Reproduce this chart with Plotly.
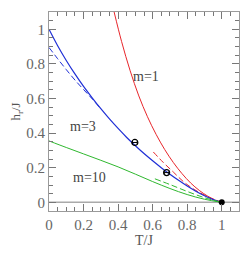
import plotly.graph_objects as go

# m=1 (red)
red_T = [0.377, 0.42, 0.47, 0.52, 0.57, 0.62, 0.67, 0.72, 0.77, 0.82, 0.87, 0.92, 0.96, 1.0]
red_h = [1.1, 0.93, 0.76, 0.615, 0.495, 0.393, 0.305, 0.23, 0.166, 0.112, 0.069, 0.035, 0.013, 0.0]
red_dash_T = [0.604, 0.66, 0.72, 0.78, 0.84, 0.9, 1.0]
red_dash_h = [0.291, 0.232, 0.175, 0.118, 0.075, 0.042, 0.0]

# m=3 (blue)
blue_T = [0.0, 0.05, 0.1, 0.15, 0.2, 0.25, 0.3, 0.35, 0.4, 0.45, 0.5, 0.55, 0.6, 0.65, 0.7, 0.75, 0.8, 0.85, 0.9, 0.95, 1.0]
blue_h = [1.0, 0.905, 0.82, 0.742, 0.67, 0.604, 0.541, 0.482, 0.427, 0.375, 0.327, 0.282, 0.24, 0.2, 0.162, 0.127, 0.094, 0.064, 0.038, 0.016, 0.0]
blue_dash_T = [0.0, 0.05, 0.1, 0.15, 0.2, 0.25, 0.3]
blue_dash_h = [0.895, 0.83, 0.767, 0.707, 0.652, 0.598, 0.54]

# m=10 (green)
green_T = [0.0, 0.1, 0.2, 0.3, 0.4, 0.5, 0.6, 0.7, 0.8, 0.9, 1.0]
green_h = [0.355, 0.317, 0.28, 0.243, 0.205, 0.163, 0.12, 0.08, 0.045, 0.018, 0.0]
green_dash_T = [0.613, 0.7, 0.8, 0.9, 1.0]
green_dash_h = [0.136, 0.103, 0.063, 0.027, 0.0]

# data points
pts_T = [0.497, 0.681]
pts_h = [0.346, 0.172]
pts_err = [0.014, 0.014]
end_T = [1.0]
end_h = [0.0]

labels = ["m=1", "m=3", "m=10"]
label_T = [0.56, 0.197, 0.232]
label_h = [0.728, 0.441, 0.142]

x_ticks = [0, 0.2, 0.4, 0.6, 0.8, 1.0]
x_ticktext = ["0", "0.2", "0.4", "0.6", "0.8", "1"]
y_ticks = [0, 0.2, 0.4, 0.6, 0.8, 1.0]
y_ticktext = ["0", "0.2", "0.4", "0.6", "0.8", "1"]
minor_step = 0.05

X_RANGE = [0, 1.1]
Y_RANGE = [-0.05, 1.1]

RED = "#e8262b"
BLUE = "#1f2fd6"
GREEN = "#2fb82f"
FONT = "Liberation Serif, Times New Roman, serif"
TICKC = "#777777"

fig = go.Figure()
fig.add_trace(go.Scatter(x=red_T, y=red_h, mode="lines", line=dict(color=RED, width=1, shape="spline")))
fig.add_trace(go.Scatter(x=red_dash_T, y=red_dash_h, mode="lines", line=dict(color=RED, width=1, dash="6px,3px", shape="spline")))
fig.add_trace(go.Scatter(x=blue_T, y=blue_h, mode="lines", line=dict(color=BLUE, width=1.2, shape="spline")))
fig.add_trace(go.Scatter(x=blue_dash_T, y=blue_dash_h, mode="lines", line=dict(color=BLUE, width=1, dash="6px,3px", shape="spline")))
fig.add_trace(go.Scatter(x=green_T, y=green_h, mode="lines", line=dict(color=GREEN, width=1, shape="spline")))
fig.add_trace(go.Scatter(x=green_dash_T, y=green_dash_h, mode="lines", line=dict(color=GREEN, width=1, dash="6px,3px", shape="spline")))
fig.add_trace(go.Scatter(x=pts_T, y=pts_h, mode="markers",
                         marker=dict(symbol="circle-open", size=6, color="black", line=dict(width=1.2, color="black")),
                         error_x=dict(type="data", array=pts_err, color="black", thickness=1, width=2)))
fig.add_trace(go.Scatter(x=end_T, y=end_h, mode="markers",
                         marker=dict(symbol="circle", size=6, color="black")))
# invisible traces bound to the tick-only overlay axes so they are rendered
for xa, ya in [("x2", "y2"), ("x3", "y3"), ("x4", "y4")]:
    fig.add_trace(go.Scatter(x=end_T, y=end_h, xaxis=xa, yaxis=ya, mode="markers",
                             marker=dict(size=1, opacity=0), hoverinfo="skip"))

for t, x, y in zip(labels, label_T, label_h):
    fig.add_annotation(x=x, y=y, text=t, showarrow=False,
                       font=dict(family=FONT, size=14, color="#444444"))

base = dict(showgrid=False, zeroline=False, automargin=False, ticks="inside",
            tickcolor=TICKC, tickwidth=1)
tfont = dict(family=FONT, size=15, color="#666666")

# page body has an 8px margin: figure sized/offset to place plot area like the reference
fig.update_layout(
    width=241, height=245,
    margin=dict(l=41, r=10, t=4, b=42),
    paper_bgcolor="white", plot_bgcolor="white",
    showlegend=False,
    # main axes: frame, major ticks, labels
    xaxis=dict(range=X_RANGE, tickmode="array", tickvals=x_ticks, ticktext=x_ticktext, tickfont=tfont,
               ticklen=7, showline=True, linecolor="#9a9a9a", linewidth=1, mirror=True,
               title=dict(text="T/J", standoff=0, font=dict(family=FONT, size=14, color="#555555")),
               **base),
    yaxis=dict(range=Y_RANGE, tickmode="array", tickvals=y_ticks, ticktext=y_ticktext, tickfont=tfont,
               ticklen=7, showline=True, linecolor="#9a9a9a", linewidth=1, mirror=True,
               title=dict(text="h<sub>r</sub>/J", standoff=2, font=dict(family=FONT, size=13, color="#555555")),
               **base),
    # mirrored major ticks (top / right)
    xaxis2=dict(range=X_RANGE, tickmode="array", tickvals=x_ticks, overlaying="x", side="top", anchor="y2",
                showticklabels=False, ticklen=7, showline=False, **base),
    yaxis2=dict(range=Y_RANGE, tickmode="array", tickvals=y_ticks, overlaying="y", side="right", anchor="x2",
                showticklabels=False, ticklen=7, showline=False, **base),
    # minor ticks bottom / left
    xaxis3=dict(range=X_RANGE, tickmode="linear", tick0=0, dtick=minor_step, overlaying="x", side="bottom", anchor="y3",
                showticklabels=False, ticklen=4, showline=False, **base),
    yaxis3=dict(range=Y_RANGE, tickmode="linear", tick0=0, dtick=minor_step, overlaying="y", side="left", anchor="x3",
                showticklabels=False, ticklen=4, showline=False, **base),
    # minor ticks top / right
    xaxis4=dict(range=X_RANGE, tickmode="linear", tick0=0, dtick=minor_step, overlaying="x", side="top", anchor="y4",
                showticklabels=False, ticklen=4, showline=False, **base),
    yaxis4=dict(range=Y_RANGE, tickmode="linear", tick0=0, dtick=minor_step, overlaying="y", side="right", anchor="x4",
                showticklabels=False, ticklen=4, showline=False, **base),
)
fig.add_hline(y=0, line=dict(color="#aaaaaa", width=1.5), layer="below")

fig.write_html("out.html")
